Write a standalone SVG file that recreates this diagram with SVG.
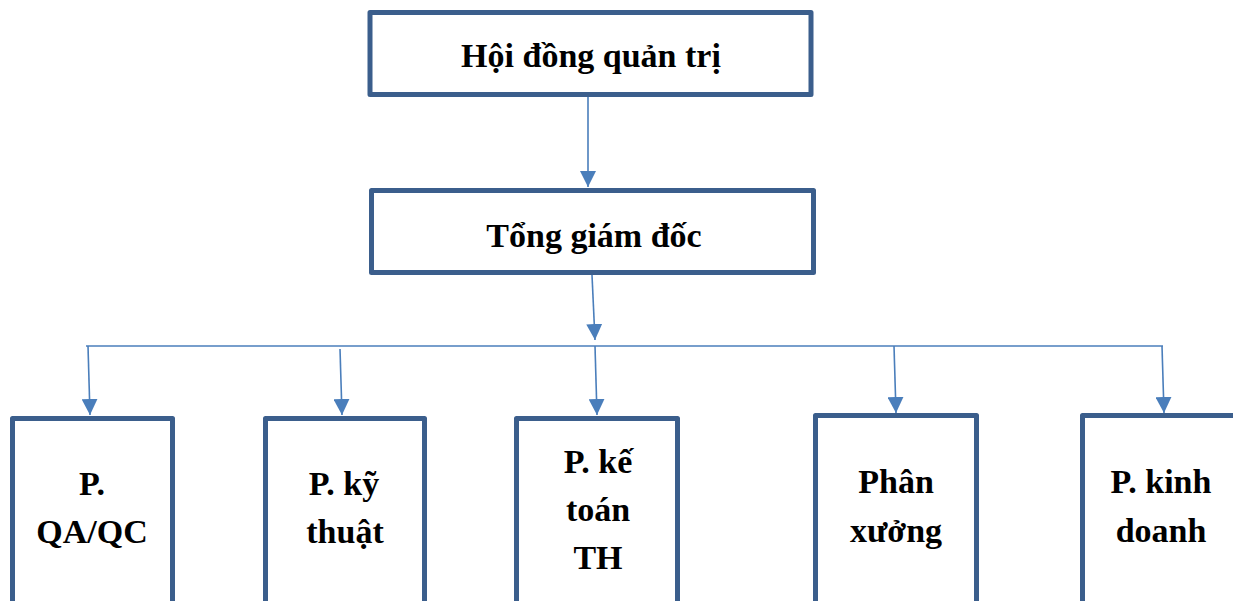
<svg xmlns="http://www.w3.org/2000/svg" width="1233" height="601" viewBox="0 0 1233 601">
  <defs>
    <marker id="arrow" viewBox="0 0 16 16" refX="16" refY="8" markerWidth="16" markerHeight="16" markerUnits="userSpaceOnUse" orient="auto">
      <path d="M0,0 L16,8 L0,16 z" fill="#4a7ebb"/>
    </marker>
    <style>
      .box { fill: #ffffff; stroke: #3b5e8c; stroke-width: 5; stroke-linejoin: round; }
      .lbl { font-family: "Liberation Serif", "Times New Roman", serif; font-weight: bold; font-size: 34px; fill: #000000; text-anchor: middle; }
      .conn { stroke: #4a7ebb; stroke-width: 1.6; fill: none; }
      .arr { marker-end: url(#arrow); }
    </style>
  </defs>
  <rect width="1233" height="601" fill="#ffffff"/>

  <!-- connectors -->
  <g id="connectors">
    <line class="conn arr" x1="588" y1="97" x2="588" y2="187"/>
    <line class="conn arr" x1="592" y1="275" x2="595" y2="340"/>
    <line class="conn" x1="86" y1="346" x2="1163" y2="346"/>
    <line class="conn arr" x1="88" y1="346" x2="90" y2="415"/>
    <line class="conn arr" x1="340" y1="349" x2="342" y2="415"/>
    <line class="conn arr" x1="595" y1="346" x2="597" y2="415"/>
    <line class="conn arr" x1="894" y1="346" x2="896" y2="413"/>
    <line class="conn arr" x1="1162" y1="346" x2="1164" y2="413"/>
  </g>

  <!-- board -->
  <g id="node-board">
    <rect class="box" x="370" y="12.5" width="441" height="82"/>
    <text class="lbl" x="591" y="67">Hội đồng quản trị</text>
  </g>

  <!-- general director -->
  <g id="node-ceo">
    <rect class="box" x="371.5" y="190.5" width="442" height="82"/>
    <text class="lbl" x="594" y="247">Tổng giám đốc</text>
  </g>

  <!-- departments -->
  <g id="node-qaqc">
    <rect class="box" x="12.5" y="418.5" width="160" height="200"/>
    <text class="lbl" x="92" y="495">P.</text>
    <text class="lbl" x="92" y="543">QA/QC</text>
  </g>

  <g id="node-kythuat">
    <rect class="box" x="265.5" y="418.5" width="159" height="200"/>
    <text class="lbl" x="344" y="495">P. kỹ</text>
    <text class="lbl" x="345" y="543">thuật</text>
  </g>

  <g id="node-ketoan">
    <rect class="box" x="516.5" y="418.5" width="161" height="200"/>
    <text class="lbl" x="598" y="473">P. kế</text>
    <text class="lbl" x="598" y="521">toán</text>
    <text class="lbl" x="598" y="569">TH</text>
  </g>

  <g id="node-phanxuong">
    <rect class="box" x="815.5" y="415.5" width="161" height="200"/>
    <text class="lbl" x="896" y="493">Phân</text>
    <text class="lbl" x="896" y="542">xưởng</text>
  </g>

  <g id="node-kinhdoanh">
    <rect class="box" x="1082.5" y="415.5" width="161" height="200"/>
    <text class="lbl" x="1161" y="493">P. kinh</text>
    <text class="lbl" x="1161" y="542">doanh</text>
  </g>
</svg>
